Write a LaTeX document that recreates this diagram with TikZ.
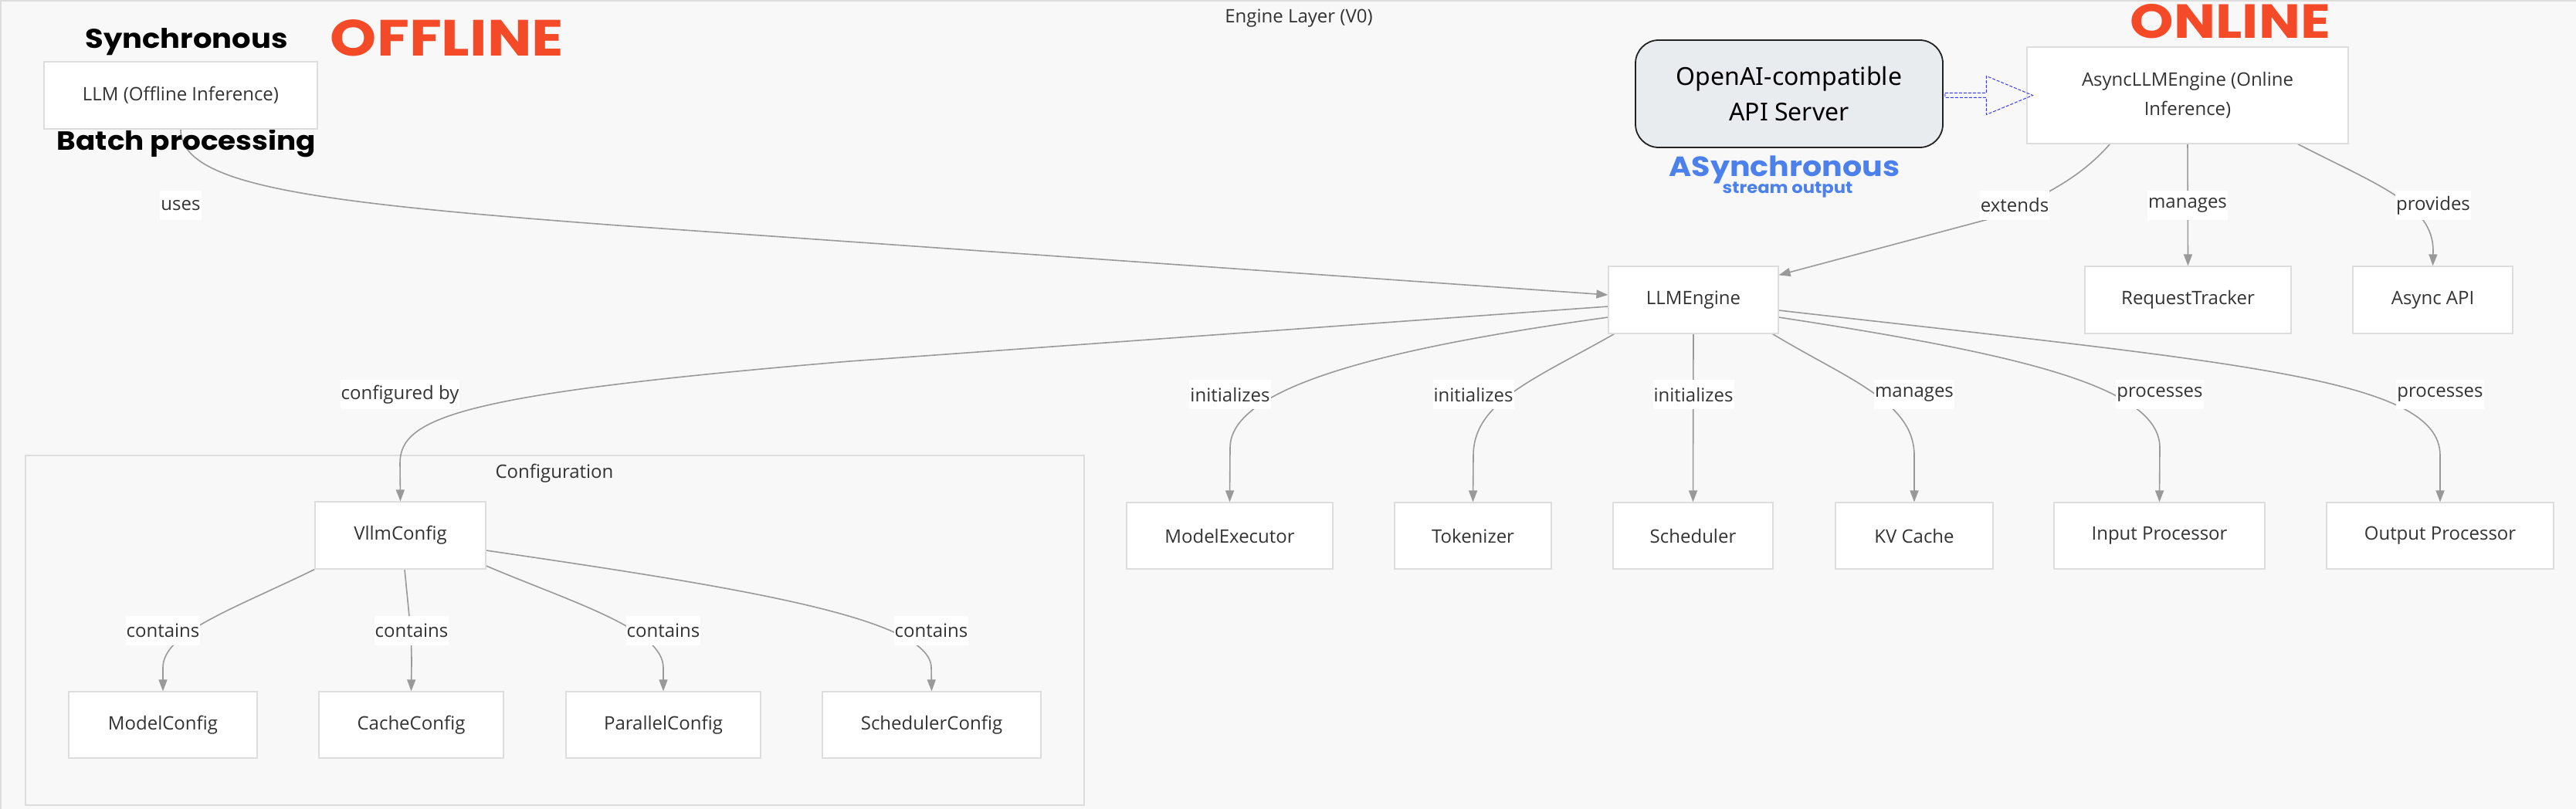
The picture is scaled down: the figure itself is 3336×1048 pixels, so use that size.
\documentclass[tikz,border=0pt]{standalone}
\usepackage{fontspec}
\usepackage{graphicx}
\setmainfont{Open Sans}
\newfontfamily\popb{Poppins}
\newfontfamily\hand{Noto Sans}
\usetikzlibrary{arrows.meta,calc}
\definecolor{bgc}{HTML}{F8F8F8}
\definecolor{boxline}{HTML}{DDDDDD}
\definecolor{edgec}{HTML}{999999}
\definecolor{txt}{HTML}{333333}
\definecolor{apifill}{HTML}{E9ECEF}
\definecolor{apiline}{HTML}{222222}
\definecolor{redc}{HTML}{F44A27}
\definecolor{bluec}{HTML}{4C80EC}
\definecolor{dashc}{HTML}{3A3AF0}
\pgfdeclarelayer{bg}
\pgfdeclarelayer{edges}
\pgfsetlayers{bg,edges,main}
\begin{document}
\begin{tikzpicture}[x=1pt,y=-1pt,
  box/.style={draw=boxline,line width=1.2pt,fill=white,text=txt,font=\fontsize{24}{38}\selectfont,minimum height=87pt,inner sep=0pt,align=center},
  lbl/.style={fill=white,text=txt,font=\fontsize{24}{33}\selectfont,inner xsep=1pt,inner ysep=0pt,minimum height=38pt},
  title/.style={text=txt,font=\fontsize{24}{30}\selectfont,anchor=base},
  edge/.style={draw=edgec,line width=1.6pt,-{Triangle[length=15pt,width=11pt]}},
  deco/.style={anchor=base,font=\popb\bfseries},
  fat/.style={draw=dashc,line width=1pt,dash pattern=on 4pt off 2pt}]
\useasboundingbox (0,0) rectangle (3336,1048);
\begin{pgfonlayer}{bg}
  \fill[bgc] (0,0) rectangle (3336,1048);
  \draw[boxline,line width=2pt] (1,1060) -- (1,1) -- (3350,1);
  \draw[boxline,line width=1.2pt] (33,590) rectangle (1404,1043);
\end{pgfonlayer}

% titles
\node[title] (t0) at (1682,30) {Engine Layer (V0)};
\node[title] (t1) at (718,619) {Configuration};

% decorative texts
\node[deco,font=\popb\bfseries\fontsize{35}{40}\selectfont] (sync) at (241.5,63) {\scalebox{1.1}[1]{Synchronous}};
\node[deco,font=\popb\bfseries\fontsize{34}{40}\selectfont] (batch) at (241.5,195) {\scalebox{1.1}[1]{Batch processing}};
\node[deco,text=redc,font=\popb\bfseries\fontsize{66}{70}\selectfont] (off) at (579,73) {\scalebox{1.16}[1]{OFFLINE}};
\node[deco,text=redc,font=\popb\bfseries\fontsize{62}{70}\selectfont] (on) at (2888.5,50) {\scalebox{1.16}[1]{ONLINE}};
\node[deco,text=bluec,font=\popb\bfseries\fontsize{36}{40}\selectfont] (asy) at (2311,229) {\scalebox{1.1}[1]{ASynchronous}};
\node[deco,text=bluec,font=\popb\bfseries\fontsize{21}{26}\selectfont] (stream) at (2315,251) {\scalebox{1.08}[1]{stream output}};

% nodes
\node[box,minimum width=354pt] (llm) at (234,123.5) {LLM (Offline Inference)};
\node[box,minimum width=416pt,minimum height=125pt] (async) at (2833,123.5) {AsyncLLMEngine (Online\\Inference)};
\node[draw=apiline,line width=1.8pt,fill=apifill,rounded corners=30pt,minimum width=398pt,minimum height=139pt,align=center,inner sep=0pt,text=black,font=\hand\fontsize{32}{46}\selectfont] (api) at (2317,121.5) {OpenAI-compatible\\API Server};
\node[box,minimum width=220pt] (engine) at (2193,388.5) {LLMEngine};
\node[box,minimum width=267pt] (req) at (2833.5,388.5) {RequestTracker};
\node[box,minimum width=207pt] (aapi) at (3150.5,388.5) {Async API};
\node[box,minimum width=267pt,minimum height=86pt] (mexec) at (1592.5,694) {ModelExecutor};
\node[box,minimum width=203pt,minimum height=86pt] (tok) at (1907.5,694) {Tokenizer};
\node[box,minimum width=207pt,minimum height=86pt] (sched) at (2192.5,694) {Scheduler};
\node[box,minimum width=204pt,minimum height=86pt] (kv) at (2479,694) {KV Cache};
\node[box,minimum width=273pt,minimum height=86pt] (inp) at (2796.5,694) {Input Processor};
\node[box,minimum width=294pt,minimum height=86pt] (outp) at (3160,694) {Output Processor};
\node[box,minimum width=221pt] (vllm) at (518.5,693.5) {VllmConfig};
\node[box,minimum width=244pt,minimum height=86pt] (mcfg) at (211,939) {ModelConfig};
\node[box,minimum width=239pt,minimum height=86pt] (ccfg) at (532.5,939) {CacheConfig};
\node[box,minimum width=252pt,minimum height=86pt] (pcfg) at (859,939) {ParallelConfig};
\node[box,minimum width=283pt,minimum height=86pt] (scfg) at (1206.5,939) {SchedulerConfig};

% edge labels
\node[lbl] (luses) at (234,266) {uses};
\node[lbl] (lext) at (2609,266) {extends};
\node[lbl] (lman) at (2833,266) {manages};
\node[lbl] (lprov) at (3151,266) {provides};
\node[lbl] (lconf) at (518,511) {configured by};
\node[lbl] (li1) at (1593,511) {initializes};
\node[lbl] (li2) at (1908,511) {initializes};
\node[lbl] (li3) at (2193,511) {initializes};
\node[lbl] (lman2) at (2479,511) {manages};
\node[lbl] (lp1) at (2797,511) {processes};
\node[lbl] (lp2) at (3160,511) {processes};
\node[lbl] (lc1) at (211,817) {contains};
\node[lbl] (lc2) at (533,817) {contains};
\node[lbl] (lc3) at (859,817) {contains};
\node[lbl] (lc4) at (1206,817) {contains};

% fat dashed arrow
\coordinate (tip) at ([xshift=8pt]async.west);
\draw[fat] let \p1=(api.east), \p2=(tip) in
  (\x1+2pt,\y2+3pt) -- (\x2-60pt,\y2+3pt) -- (\x2-60pt,\y2+25pt) -- (\p2)
  -- (\x2-60pt,\y2-25pt) -- (\x2-60pt,\y2-3pt) -- (\x1+2pt,\y2-3pt) -- cycle;

\begin{pgfonlayer}{edges}
  \draw[edge] (llm.south) .. controls (234,240) and (400,262) .. (800,292) -- ([yshift=6.5pt]engine.west);
  \draw[edge] ([xshift=108pt]async.south west) .. controls (2690,235) and (2640,255) .. (2590,280) -- ([yshift=-12pt]engine.north east);
  \draw[edge] (async.south) -- (req.north);
  \draw[edge] ([xshift=-66pt]async.south east) .. controls (3080,240) and (3151,265) .. (3151,325) -- (aapi.north);
  \draw[edge] ([yshift=-8.5pt]engine.west) -- (1100,468) .. controls (600,510) and (518,540) .. (518,600) -- (vllm.north);
  \draw[edge] ([yshift=-22.5pt]engine.west) .. controls (1800,450) and (1593,500) .. (1593,580) -- (mexec.north);
  \draw[edge] ([xshift=8pt]engine.south west) .. controls (1990,490) and (1908,520) .. (1908,590) -- (tok.north);
  \draw[edge] (engine.south) -- (sched.north);
  \draw[edge] ([xshift=-8pt]engine.south east) .. controls (2390,490) and (2479,520) .. (2479,590) -- (kv.north);
  \draw[edge] ([yshift=-22.5pt]engine.east) .. controls (2610,458) and (2797,500) .. (2797,580) -- (inp.north);
  \draw[edge] ([yshift=-13.5pt]engine.east) .. controls (2900,470) and (3160,490) .. (3160,590) -- (outp.north);
  \draw[edge] (vllm.south west) .. controls (300,790) and (211,820) .. (211,865) -- (mcfg.north);
  \draw[edge] ([xshift=5.5pt]vllm.south) .. controls (530,800) and (533,820) .. (533,860) -- (ccfg.north);
  \draw[edge] ([yshift=-39.5pt]vllm.east) .. controls (740,780) and (859,815) .. (859,865) -- (pcfg.north);
  \draw[edge] ([yshift=-19.5pt]vllm.east) .. controls (950,760) and (1206,800) .. (1206,865) -- (scfg.north);
\end{pgfonlayer}
\end{tikzpicture}
\end{document}
